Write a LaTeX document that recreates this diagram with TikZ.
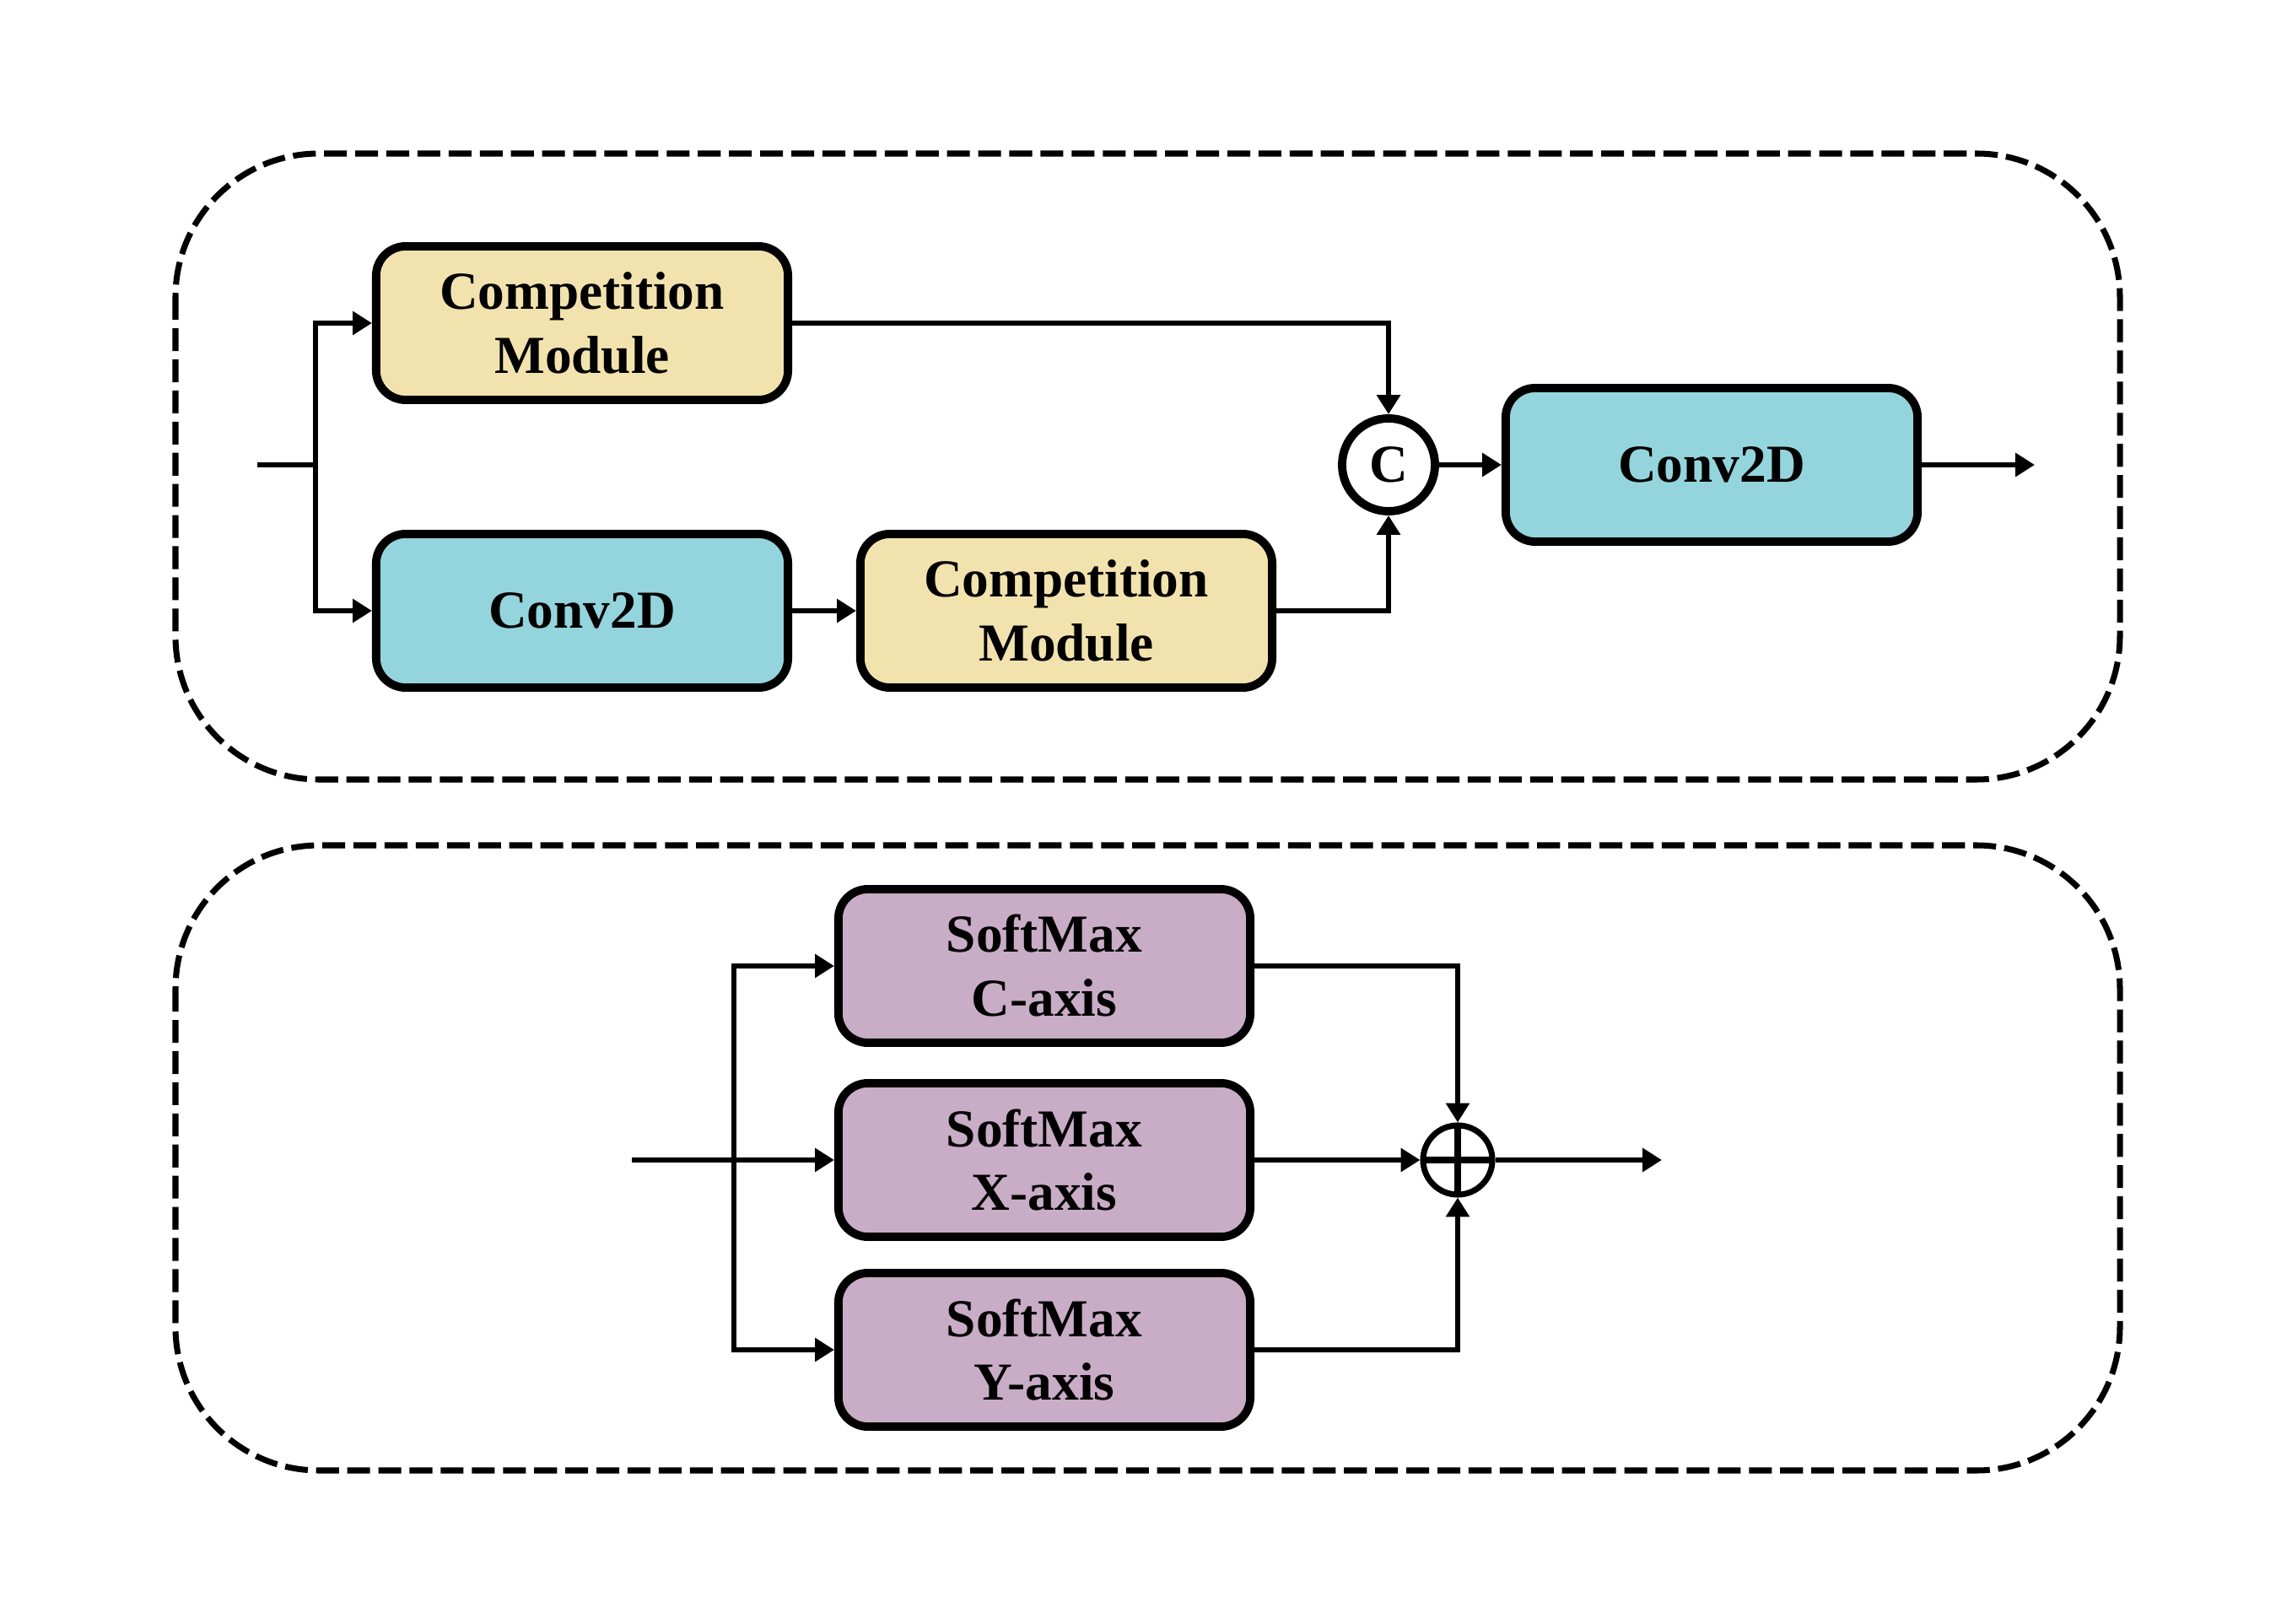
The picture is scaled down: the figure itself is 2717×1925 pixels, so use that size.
\documentclass[tikz,border=0pt]{standalone}
\usepackage{fontspec}
\setmainfont{Liberation Serif}
\usetikzlibrary{arrows.meta}
\definecolor{compyellow}{RGB}{242,227,174}
\definecolor{convcyan}{RGB}{148,213,221}
\definecolor{softpurple}{RGB}{201,172,197}
\tikzset{
  block/.style={draw,line width=2.8pt,rounded corners=0.35cm,minimum width=4.88cm,minimum height=1.82cm,align=center,font=\fontsize{18}{21.6}\selectfont\bfseries},
  compbox/.style={block,fill=compyellow},
  convbox/.style={block,fill=convcyan},
  softbox/.style={block,fill=softpurple},
  link/.style={line width=1.8pt,-{Triangle[length=6.5pt,width=7.7pt]}},
  wire/.style={line width=1.8pt},
  frame/.style={line width=2pt,dash pattern=on 7.7pt off 2.8pt,rounded corners=1.7cm},
  addnode/.style={draw,circle,line width=2pt,minimum size=0.82cm,inner sep=0pt,
    path picture={\draw[line width=2pt] (path picture bounding box.north) -- (path picture bounding box.south)
      (path picture bounding box.west) -- (path picture bounding box.east);}},
}

\begin{document}
\begin{tikzpicture}[x=0.01cm,y=-0.01cm]
      \useasboundingbox (0,0) rectangle (2717,1925);
      \draw[frame] (208,182) rectangle (2513,924);
      \draw[frame] (208,1002) rectangle (2513,1743);
      % upper block
      \node[compbox] (comp1) at (690,383) {Competition\\Module};
      \node[convbox] (conv1) at (690,724) {Conv2D};
      \node[compbox] (comp2) at (1264,724) {Competition\\Module};
      \node[draw,circle,fill=white,line width=2.8pt,minimum size=1.1cm,inner sep=0pt,font=\fontsize{18}{21.6}\selectfont\bfseries] (cat) at (1646,551) {C};
      \node[convbox] (conv2) at (2029,551) {Conv2D};
      \coordinate (in1) at (305,551);
      \coordinate (split1) at (374,551);
      \coordinate (out1) at (2412,551);
      \draw[wire] (in1) -- (split1);
      \draw[link] (split1) |- (comp1.west);
      \draw[link] (split1) |- (conv1.west);
      \draw[link] (conv1) -- (comp2);
      \draw[link] (comp1.east) -| (cat.north);
      \draw[link] (comp2.east) -| (cat.south);
      \draw[link] (cat) -- (conv2);
      \draw[link] (conv2) -- (out1);
      % lower block
      \node[softbox] (softc) at (1238,1145) {SoftMax\\C-axis};
      \node[softbox] (softx) at (1238,1375) {SoftMax\\X-axis};
      \node[softbox] (softy) at (1238,1600) {SoftMax\\Y-axis};
      \node[addnode] (plus) at (1728,1375) {};
      \coordinate (in2) at (749,1375);
      \coordinate (split2) at (870,1375);
      \coordinate (out2) at (1970,1375);
      \draw[link] (in2) -- (softx.west);
      \draw[link] (split2) |- (softc.west);
      \draw[link] (split2) |- (softy.west);
      \draw[link] (softc.east) -| (plus.north);
      \draw[link] (softy.east) -| (plus.south);
      \draw[link] (softx) -- (plus);
      \draw[link] (plus) -- (out2);
    \end{tikzpicture}
\end{document}
